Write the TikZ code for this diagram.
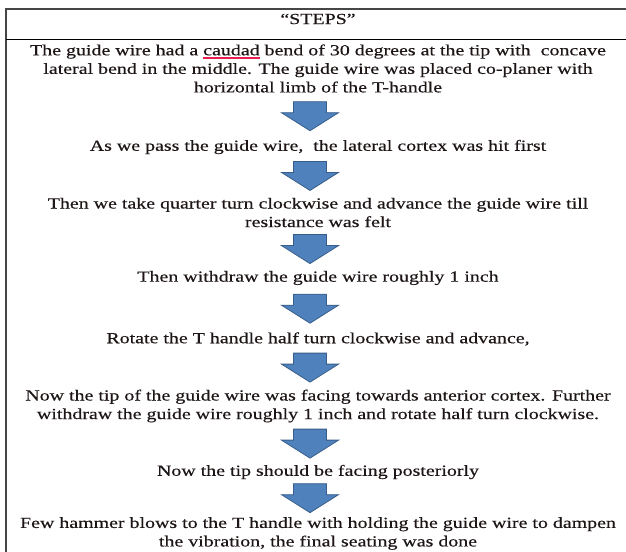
\documentclass[tikz,border=0pt]{standalone}
\usepackage{fontspec}
\setmainfont{Liberation Serif}[FakeStretch=1.29, FakeBold=0.4]
\usepackage{tikz}
\usetikzlibrary{positioning, calc}
\definecolor{inkbrown}{RGB}{30,22,22}
\definecolor{arrowblue}{RGB}{79,129,189}
\definecolor{arrowedge}{RGB}{56,93,138}
\definecolor{framegray}{RGB}{70,70,70}
\definecolor{spellred}{RGB}{235,30,80}
\newsavebox{\spellbox}
\newcommand{\redul}[1]{\sbox{\spellbox}{#1}\rlap{\color{spellred}\rule[-3.4pt]{\wd\spellbox}{1.7pt}}\usebox{\spellbox}}
\tikzset{
  steptext/.style={align=center, inner sep=0pt, text=inkbrown,
    font=\fontsize{15.5}{18.6}\selectfont},
  blockarrow/.style={draw=arrowedge, fill=arrowblue, line width=0.8pt, line join=miter},
  frame/.style={draw=framegray, line width=1.4pt},
  downarrow/.pic={
    \path[blockarrow] (-16.5,-14.5) -- (16.5,-14.5) -- (16.5,-3.5) -- (28.5,-3.5)
      -- (0,14.5) -- (-28.5,-3.5) -- (-16.5,-3.5) -- cycle;
  }
}

\begin{document}
\begin{tikzpicture}[x=1bp, y=-1bp]
    \useasboundingbox (0,0) rectangle (626,552);
    \clip (0,0) rectangle (626,552);
    % table frame, open to the right and below
    \draw[frame] (640,9) -- (6,9) -- (6,570);
    \draw[black, line width=0.9pt] (6,39.5) -- (640,39.5);
    \node[steptext] (hdr) at (318,19) {“STEPS”};
    \node[steptext] (s1) at (318,68.5) {The guide wire had a \redul{caudad} bend of 30 degrees at the tip with~ concave\\
      lateral bend in the middle. The guide wire was placed co-planer with\\
      horizontal limb of the T-handle};
    \node[steptext] (s2) at (318,147) {As we pass the guide wire,~ the lateral cortex was hit first};
    \node[steptext] (s3) at (318,212.5) {Then we take quarter turn clockwise and advance the guide wire till\\
      resistance was felt};
    \node[steptext] (s4) at (318,278) {Then withdraw the guide wire roughly 1 inch};
    \node[steptext] (s5) at (318,339) {Rotate the T handle half turn clockwise and advance,};
    \node[steptext] (s6) at (318,406) {Now the tip of the guide wire was facing towards anterior cortex. Further\\
      withdraw the guide wire roughly 1 inch and rotate half turn clockwise.};
    \node[steptext] (s7) at (318,472) {Now the tip should be facing posteriorly};
    \node[steptext] (s8) at (318,533.5) {Few hammer blows to the T handle with holding the guide wire to dampen\\
      the vibration, the final seating was done};
    % block arrows between the steps
    \foreach \a/\b in {s1/s2, s2/s3, s3/s4, s4/s5, s5/s6, s6/s7, s7/s8}
      \pic at ($(\a.south)!0.5!(\b.north)+(-8,0)$) {downarrow};
\end{tikzpicture}
\end{document}
